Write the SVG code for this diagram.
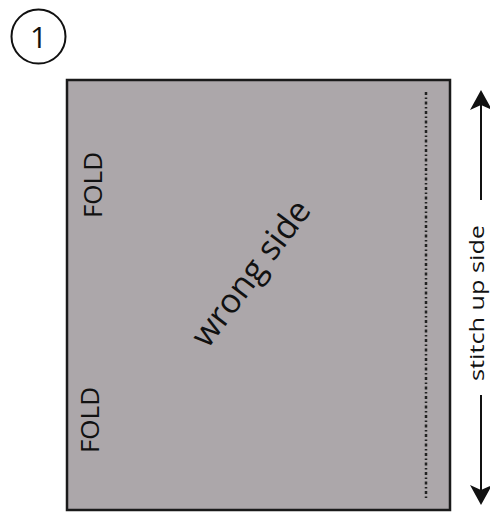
<svg xmlns="http://www.w3.org/2000/svg" width="490" height="513" viewBox="0 0 490 513">
<style>
.t{font-family:"Open Sans","Liberation Sans",sans-serif;fill:#111}
.ln{stroke:#111;fill:none}
</style>
<defs>
<marker id="ah" viewBox="0 0 20 22" refX="18" refY="11" markerWidth="20" markerHeight="22" markerUnits="userSpaceOnUse" orient="auto">
<path d="M0,0 L20,11 L0,22 L5,11 Z" fill="#111"/>
</marker>
</defs>
<rect width="490" height="513" fill="#fff"/>
<g id="step">
<circle cx="38.5" cy="36.5" r="27" fill="none" stroke="#111" stroke-width="2"/>
<text class="t" x="38.5" y="48" font-size="30" text-anchor="middle">1</text>
</g>
<g id="fabric">
<rect x="67" y="80" width="383" height="430" fill="#aca7aa" stroke="#1a1a1a" stroke-width="2.5"/>
<line x1="426" y1="92" x2="426" y2="500" stroke="#222" stroke-width="2.5" stroke-dasharray="3,2.5,1.5,2.5"/>
<text class="t" transform="translate(102,185) rotate(-90)" font-size="26" text-anchor="middle">FOLD</text>
<text class="t" transform="translate(99,420) rotate(-90)" font-size="26" text-anchor="middle">FOLD</text>
<text class="t" transform="translate(260,280) rotate(-53)" font-size="34" text-anchor="middle">wrong side</text>
</g>
<g id="connectors">
<line class="ln" x1="481" y1="200" x2="481" y2="92" stroke-width="2" marker-end="url(#ah)"/>
<line class="ln" x1="481" y1="395" x2="481" y2="503" stroke-width="2" marker-end="url(#ah)"/>
</g>
<g id="label">
<text class="t" transform="translate(484,303) rotate(-90)" font-size="20" text-anchor="middle" textLength="156" lengthAdjust="spacingAndGlyphs">stitch up side</text>
</g>
</svg>
